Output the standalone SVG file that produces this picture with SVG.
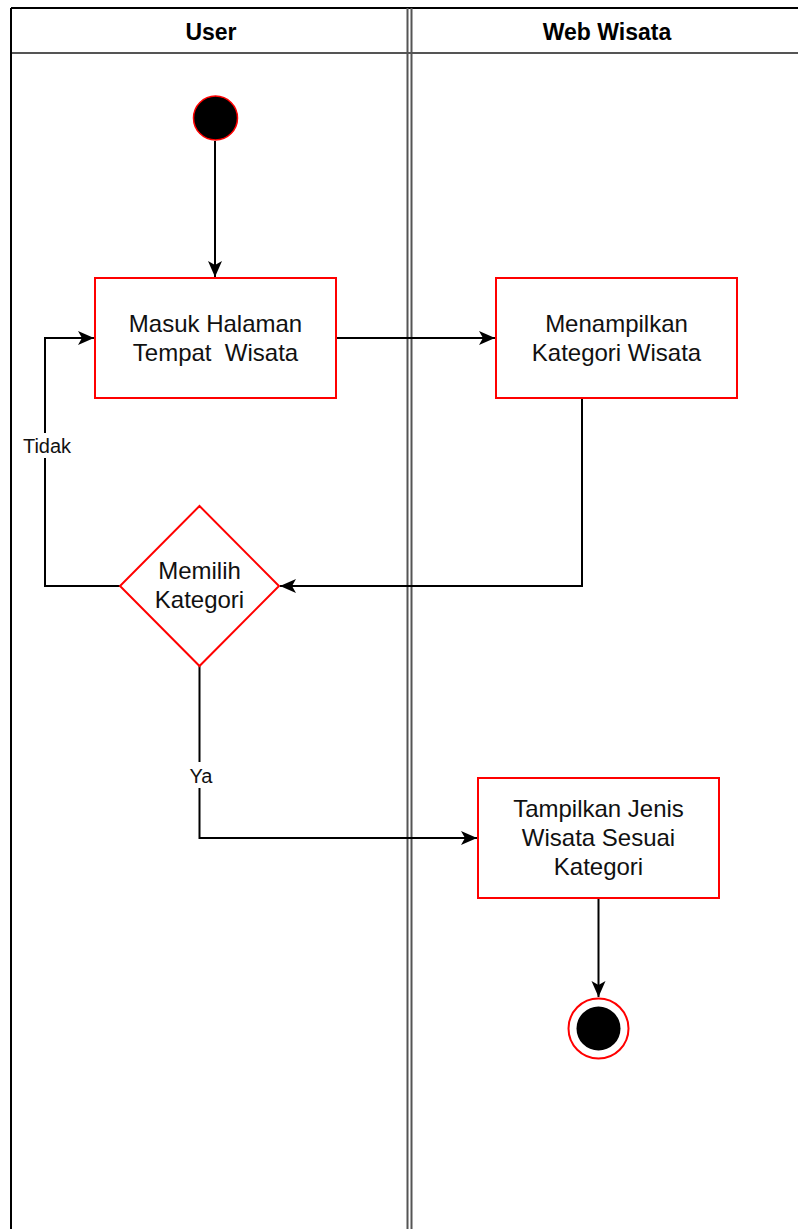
<svg xmlns="http://www.w3.org/2000/svg" width="798" height="1229" viewBox="0 0 798 1229">
<defs>
<style>
.lane{fill:none;stroke:#000;stroke-width:2}
.lanein{fill:none;stroke:#555;stroke-width:2}
.hdr{font-family:"Liberation Sans",Arial,sans-serif;font-weight:bold;font-size:23px;fill:#000;text-anchor:middle}
.act{fill:#fff;stroke:#ff0000;stroke-width:2}
.txt{font-family:"Liberation Sans",Arial,sans-serif;font-size:24px;fill:#111;text-anchor:middle}
.lbl{font-family:"Liberation Sans",Arial,sans-serif;font-size:20px;fill:#111;text-anchor:middle}
.edge{fill:none;stroke:#000;stroke-width:2}
</style>
<marker id="arr" markerWidth="18" markerHeight="16" refX="16" refY="7" orient="auto" markerUnits="userSpaceOnUse">
<path d="M0,0 L16,7 L0,14 L4,7 Z" fill="#000"/>
</marker>
</defs>
<g id="pool">
<rect x="0" y="0" width="798" height="1229" fill="#fff"/>
<line class="lane" x1="11" y1="8" x2="798" y2="8"/>
<line class="lanein" x1="11" y1="53" x2="798" y2="53"/>
<line class="lane" x1="11" y1="8" x2="11" y2="1229"/>
<line class="lanein" x1="407.5" y1="8" x2="407.5" y2="1229"/>
<line class="lanein" x1="411.5" y1="8" x2="411.5" y2="1229"/>
<text class="hdr" x="211" y="40">User</text>
<text class="hdr" x="607" y="40">Web Wisata</text>
</g>
<g id="connectors">
<line class="edge" x1="215" y1="141" x2="215" y2="277" marker-end="url(#arr)"/>
<line class="edge" x1="336" y1="338" x2="495" y2="338" marker-end="url(#arr)"/>
<polyline class="edge" points="582,398 582,586 280,586" marker-end="url(#arr)"/>
<polyline class="edge" points="120,586 45,586 45,338 94,338" marker-end="url(#arr)"/>
<rect x="22" y="433" width="52" height="25" fill="#fff"/>
<text class="lbl" x="47" y="453">Tidak</text>
<polyline class="edge" points="199.5,666 199.5,838 477,838" marker-end="url(#arr)"/>
<rect x="185" y="762" width="32" height="26" fill="#fff"/>
<text class="lbl" x="201" y="783">Ya</text>
<line class="edge" x1="598.5" y1="898" x2="598.5" y2="997" marker-end="url(#arr)"/>
</g>
<g id="start">
<circle cx="215.5" cy="118" r="22" fill="#000" stroke="#ff0000" stroke-width="1.5"/>
</g>
<g id="masuk">
<rect class="act" x="95" y="278" width="241" height="120"/>
<text class="txt" x="215.5" y="332">Masuk Halaman</text>
<text class="txt" x="215.5" y="360.5" xml:space="preserve" style="white-space:pre">Tempat  Wisata</text>
</g>
<g id="menampilkan">
<rect class="act" x="496" y="278" width="241" height="120"/>
<text class="txt" x="616.5" y="332">Menampilkan</text>
<text class="txt" x="616.5" y="360.5">Kategori Wisata</text>
</g>
<g id="memilih">
<polygon class="act" points="199.5,506 279,586 199.5,666 120,586" stroke-width="1.5"/>
<text class="txt" x="199.5" y="579">Memilih</text>
<text class="txt" x="199.5" y="607.5">Kategori</text>
</g>
<g id="tampilkan">
<rect class="act" x="478" y="778" width="241" height="120"/>
<text class="txt" x="598.5" y="817">Tampilkan Jenis</text>
<text class="txt" x="598.5" y="846">Wisata Sesuai</text>
<text class="txt" x="598.5" y="875">Kategori</text>
</g>
<g id="end">
<circle cx="598.5" cy="1028.5" r="30" fill="#fff" stroke="#ff0000" stroke-width="2"/>
<circle cx="598.5" cy="1028.5" r="22" fill="#000"/>
</g>
</svg>
